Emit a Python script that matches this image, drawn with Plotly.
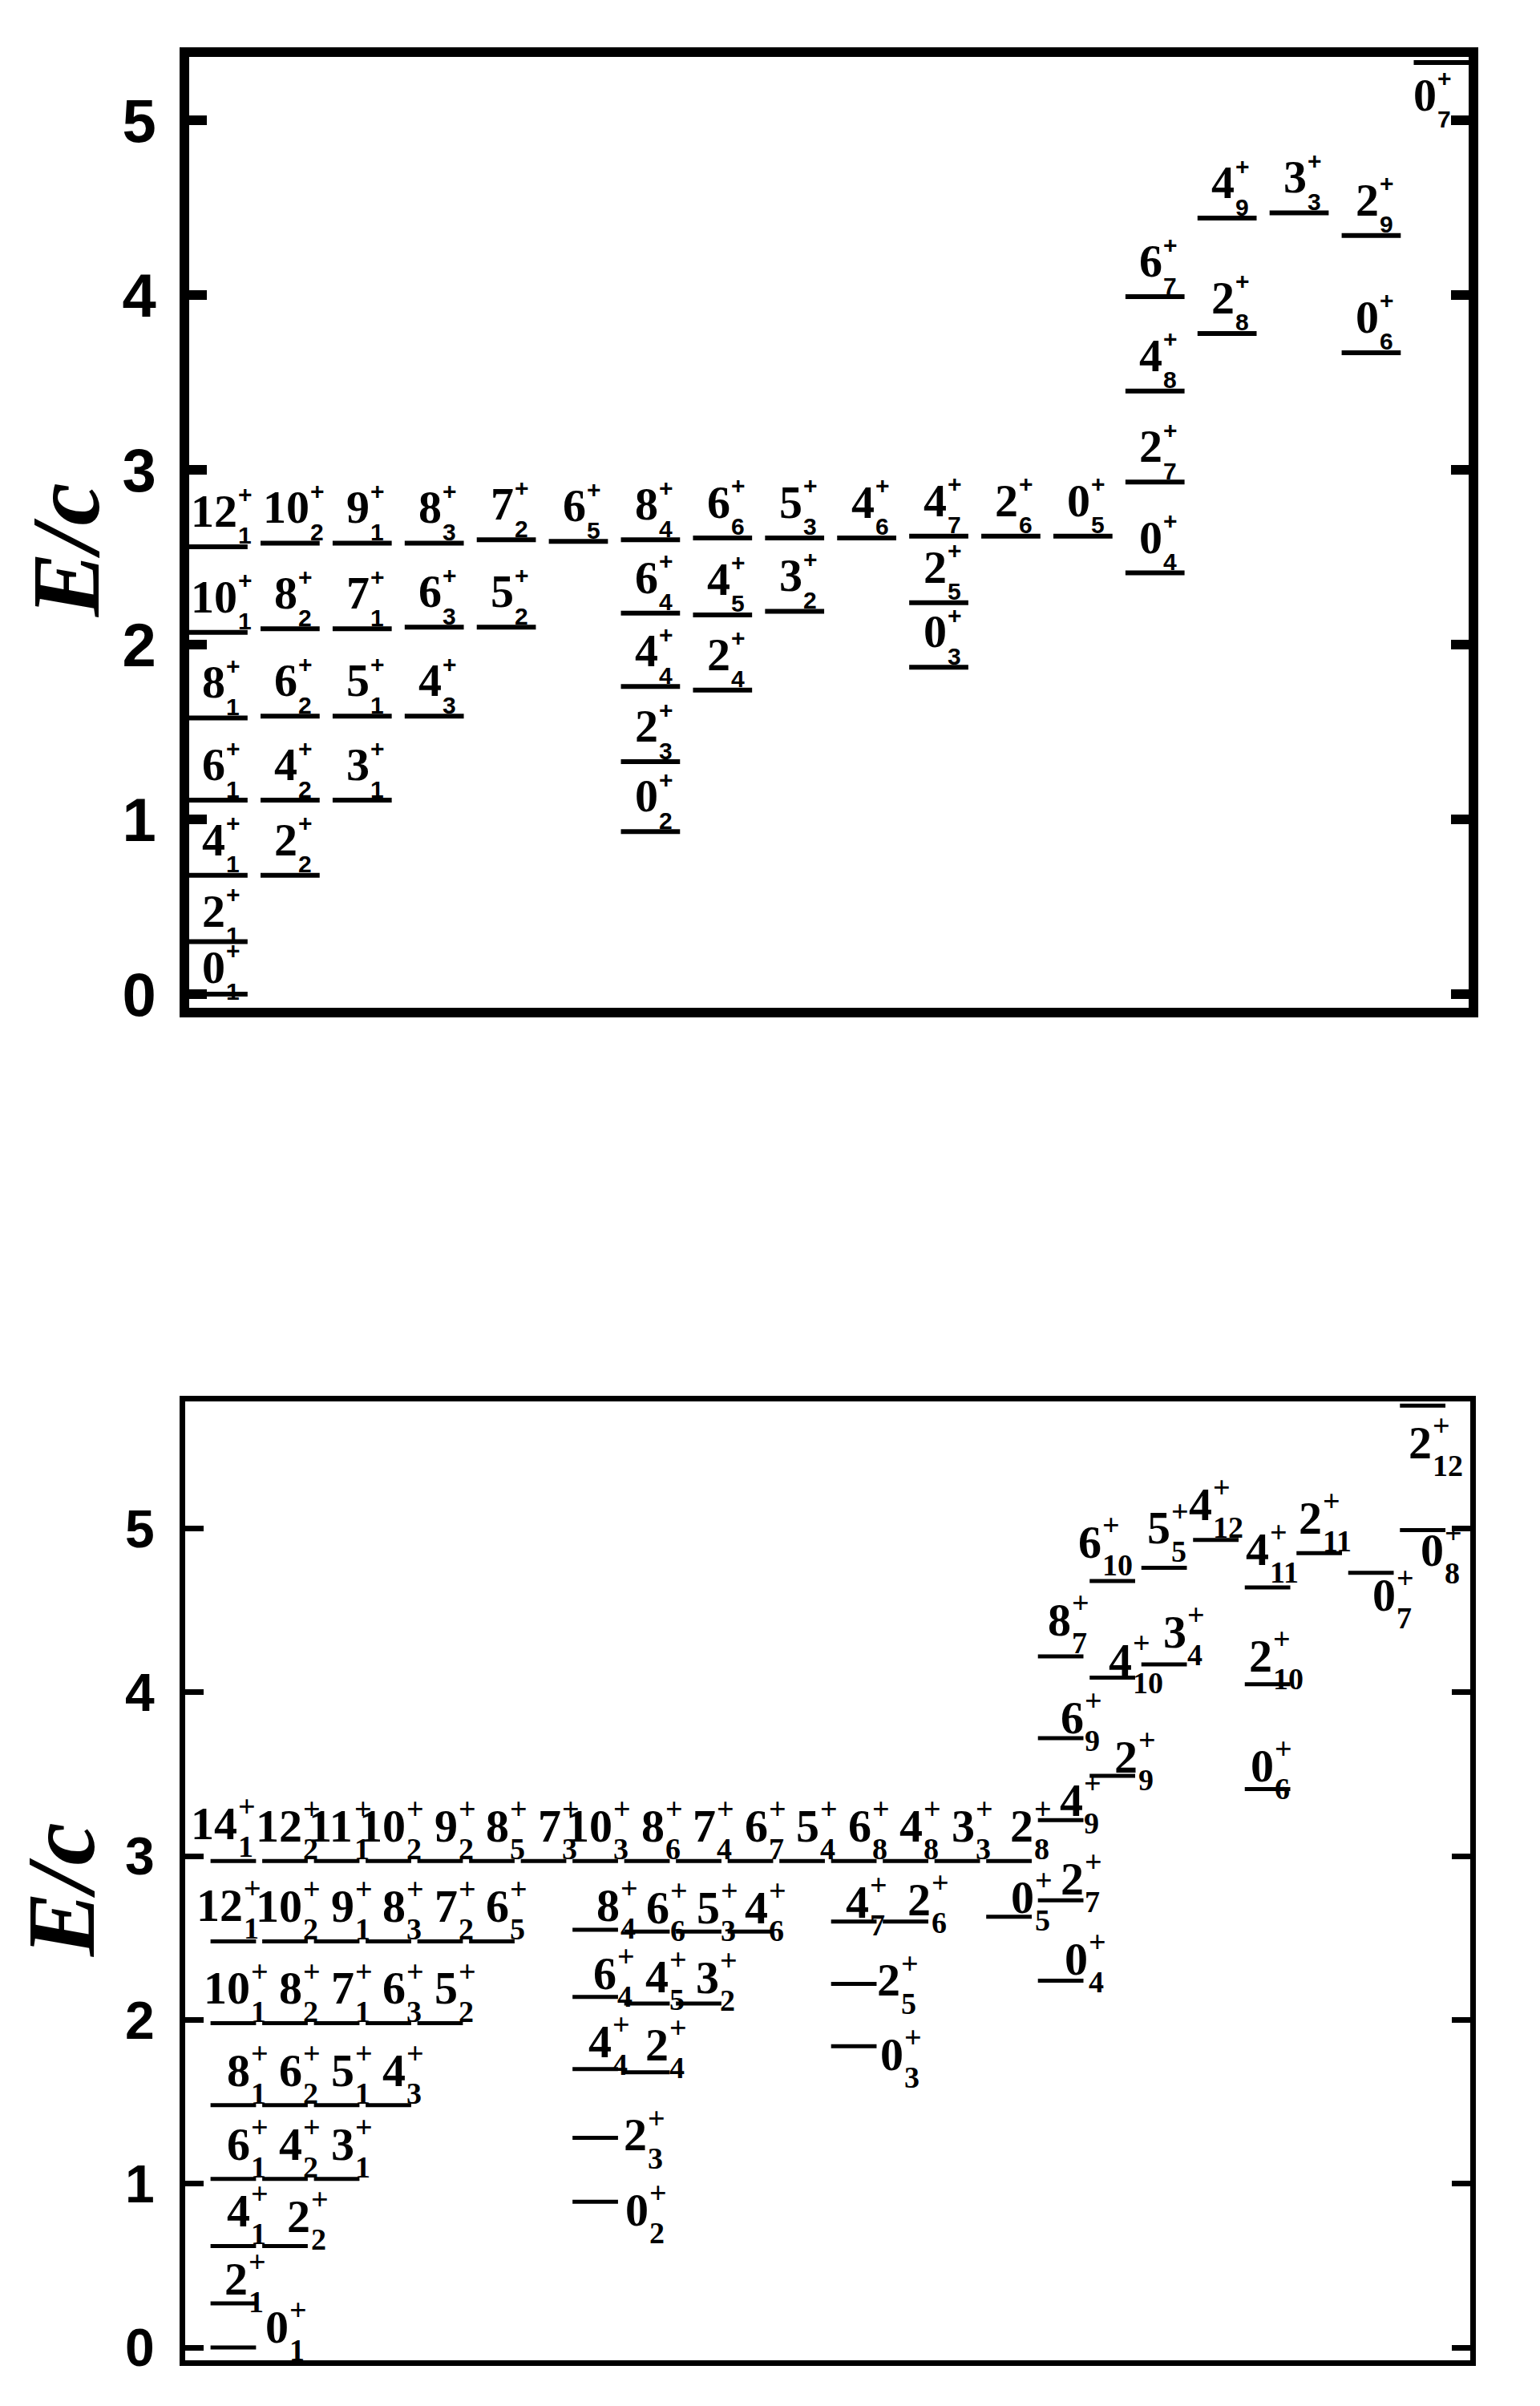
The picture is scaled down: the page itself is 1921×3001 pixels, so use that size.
import plotly.graph_objects as go

# ---------------- data: upper panel ----------------
TOP_COL = [1, 1, 1, 1, 1, 1, 1,
           2, 2, 2, 2, 2,
           3, 3, 3, 3,
           4, 4, 4,
           5, 5,
           6,
           7, 7, 7, 7, 7,
           8, 8, 8,
           9, 9,
           10,
           11, 11, 11,
           12,
           13,
           14, 14, 14, 14,
           15, 15,
           16,
           17, 17,
           18]
TOP_J = [0, 2, 4, 6, 8, 10, 12,
         2, 4, 6, 8, 10,
         3, 5, 7, 9,
         4, 6, 8,
         5, 7,
         6,
         0, 2, 4, 6, 8,
         2, 4, 6,
         3, 5,
         4,
         0, 2, 4,
         2,
         0,
         0, 2, 4, 6,
         2, 4,
         3,
         0, 2,
         0]
TOP_N = [1, 1, 1, 1, 1, 1, 1,
         2, 2, 2, 2, 2,
         1, 1, 1, 1,
         3, 3, 3,
         2, 2,
         5,
         2, 3, 4, 4, 4,
         4, 5, 6,
         2, 3,
         6,
         3, 5, 7,
         6,
         5,
         4, 7, 8, 7,
         8, 9,
         3,
         6, 9,
         7]
TOP_E = [0.00, 0.30, 0.68, 1.11, 1.58, 2.07, 2.56,
         0.68, 1.11, 1.59, 2.09, 2.58,
         1.11, 1.59, 2.09, 2.58,
         1.59, 2.10, 2.58,
         2.10, 2.60,
         2.59,
         0.93, 1.33, 1.76, 2.18, 2.60,
         1.74, 2.17, 2.61,
         2.19, 2.61,
         2.61,
         1.87, 2.24, 2.62,
         2.62,
         2.62,
         2.41, 2.93, 3.45, 3.99,
         3.78, 4.44,
         4.47,
         3.67, 4.34,
         5.33]

# ---------------- data: lower panel ----------------
BOT_COL = [1, 1, 1, 1, 1, 1, 1, 1,
           2, 2, 2, 2, 2, 2,
           3, 3, 3, 3, 3,
           4, 4, 4, 4,
           5, 5, 5,
           6, 6,
           7,
           8, 8, 8, 8, 8, 8,
           9, 9, 9, 9,
           10, 10, 10,
           11, 11,
           12,
           13, 13, 13, 13,
           14, 14,
           15,
           16, 16,
           17, 17, 17, 17, 17,
           18, 18, 18,
           19, 19,
           20,
           21, 21, 21,
           22,
           23,
           24, 24]
BOT_J = [0, 2, 4, 6, 8, 10, 12, 14,
         2, 4, 6, 8, 10, 12,
         3, 5, 7, 9, 11,
         4, 6, 8, 10,
         5, 7, 9,
         6, 8,
         7,
         0, 2, 4, 6, 8, 10,
         2, 4, 6, 8,
         3, 5, 7,
         4, 6,
         5,
         0, 2, 4, 6,
         2, 4,
         3,
         0, 2,
         0, 2, 4, 6, 8,
         2, 4, 6,
         3, 5,
         4,
         0, 2, 4,
         2,
         0,
         0, 2]
BOT_N = [1, 1, 1, 1, 1, 1, 1, 1,
         2, 2, 2, 2, 2, 2,
         1, 1, 1, 1, 1,
         3, 3, 3, 2,
         2, 2, 2,
         5, 5,
         3,
         2, 3, 4, 4, 4, 3,
         4, 5, 6, 6,
         2, 3, 4,
         6, 7,
         4,
         3, 5, 7, 8,
         6, 8,
         3,
         5, 8,
         4, 7, 9, 9, 7,
         9, 10, 10,
         4, 5,
         12,
         6, 10, 11,
         11,
         7,
         8, 12]
BOT_E = [0.00, 0.27, 0.62, 1.03, 1.48, 1.98, 2.48, 2.97,
         0.62, 1.03, 1.48, 1.98, 2.48, 2.97,
         1.03, 1.48, 1.98, 2.48, 2.97,
         1.48, 1.98, 2.48, 2.97,
         1.98, 2.48, 2.97,
         2.48, 2.97,
         2.97,
         0.89, 1.28, 1.70, 2.14, 2.55, 2.97,
         1.68, 2.10, 2.54, 2.97,
         2.10, 2.54, 2.97,
         2.54, 2.97,
         2.97,
         1.84, 2.22, 2.60, 2.97,
         2.60, 2.97,
         2.97,
         2.63, 2.97,
         2.24, 2.73, 3.22, 3.72, 4.22,
         3.49, 4.09, 4.68,
         4.17, 4.76,
         4.93,
         3.41, 4.05, 4.64,
         4.85,
         4.73,
         4.99, 5.75]

Y_TICKS = [0, 1, 2, 3, 4, 5]
Y_TITLE = "E/c"

# ---------------- styling ----------------
PAGE_W, PAGE_H = 1921, 3001
OFF = 8                      # default page margin of the html body
W, H = PAGE_W - 2 * OFF, PAGE_H - 2 * OFF
SERIF = "Liberation Serif, Times New Roman, serif"
SANS = "Liberation Sans, Arial, sans-serif"


def dom_x(a, b):
    return [(a - OFF) / W, (b - OFF) / W]


def dom_y(top, bottom):
    return [1 - (bottom - OFF) / H, 1 - (top - OFF) / H]


def px(xp, yp):
    return (xp - OFF) / W, 1 - (yp - OFF) / H


# label placement tweaks (pixel offsets: J centre vs line centre, J baseline above line)
TOP_SHIFT = {"0_1": (-5, 14), "2_1": (-5, 19), "0_7": (-23, -60)}
BOT_SHIFT = {
    "0_1": (55, 6), "2_1": (4, 11), "14_1": (-24, 27), "12_1": (-17, 25),
    "2_2": (17, 17), "0_2": (52, -30), "2_3": (50, -16), "4_4": (6, 15),
    "2_4": (12, 15), "6_4": (12, 10), "4_5": (12, 14), "3_2": (11, 13),
    "8_4": (16, 11), "6_6": (13, 10), "5_3": (12, 10), "4_6": (7, 10),
    "2_5": (43, -15), "0_3": (47, -30), "4_7": (4, 5), "2_6": (17, 8),
    "0_5": (17, 5), "2_8": (16, 24), "0_4": (19, 7), "2_7": (14, 7),
    "4_9": (13, 5), "6_9": (14, 6), "8_7": (-2, 26), "2_9": (17, 4),
    "4_10": (10, 2), "6_10": (-28, 29), "3_4": (13, 21), "5_5": (-7, 30),
    "4_12": (-19, 25), "0_6": (-7, 9), "2_10": (-9, 16), "4_11": (-13, 28),
    "2_11": (-11, 24), "0_7": (16, -47), "0_8": (12, -44), "2_12": (-3, -66),
}

fig = go.Figure()


def add_levels(cols, es, half, width, xa, ya):
    xs, ys = [], []
    for c, e in zip(cols, es):
        xs += [c - half, c + half, None]
        ys += [e, e, None]
    fig.add_trace(go.Scatter(x=xs, y=ys, mode="lines",
                             line=dict(color="black", width=width),
                             xaxis=xa, yaxis=ya, hoverinfo="skip",
                             showlegend=False))


add_levels(TOP_COL, TOP_E, 0.41, 6, "x", "y")
add_levels(BOT_COL, BOT_E, 0.44, 5, "x2", "y2")

annotations = []


def add_labels(cols, Js, ns, es, xref, yref, jsize, sfam, ssize,
               shifts, default, sup_dy, sub_dy):
    for c, J, n, e in zip(cols, Js, ns, es):
        nd = len(str(J))
        dx, dy = shifts.get(f"{J}_{n}", default(nd))
        wj = 0.5 * jsize * nd
        common = dict(x=c, y=e, xref=xref, yref=yref, showarrow=False,
                      borderpad=0, borderwidth=0, yanchor="middle")
        annotations.append(dict(common, text=f"<b>{J}</b>", xanchor="center",
                                xshift=dx, yshift=dy + 0.3375 * jsize,
                                font=dict(family=SERIF, size=jsize, color="black")))
        xs = dx + wj / 2 + 1
        annotations.append(dict(common, text="<b>+</b>", xanchor="left",
                                xshift=xs, yshift=dy + sup_dy,
                                font=dict(family=sfam, size=ssize, color="black")))
        annotations.append(dict(common, text=f"<b>{n}</b>", xanchor="left",
                                xshift=xs, yshift=dy + sub_dy,
                                font=dict(family=sfam, size=ssize, color="black")))


add_labels(TOP_COL, TOP_J, TOP_N, TOP_E, "x", "y", 58, SANS, 30,
           TOP_SHIFT, lambda nd: (-5, 25), 40, -11)
add_labels(BOT_COL, BOT_J, BOT_N, BOT_E, "x2", "y2", 58, SERIF, 38,
           BOT_SHIFT, lambda nd: (-8, 24) if nd > 1 else (7, 24), 41, -9)

# axis titles
for (tx, ty) in [(82, 686), (76, 2357)]:
    ax_, ay_ = px(tx, ty)
    annotations.append(dict(x=ax_, y=ay_, xref="paper", yref="paper",
                            text=f"<b><i>{Y_TITLE}</i></b>", textangle=-90,
                            showarrow=False, xanchor="center", yanchor="middle",
                            font=dict(family=SERIF, size=120, color="black")))


def xaxis(domain, rng, lw, anchor):
    return dict(domain=domain, range=rng, showline=True, linewidth=lw,
                linecolor="black", mirror=True, ticks="", showticklabels=False,
                showgrid=False, zeroline=False, anchor=anchor, automargin=False)


def yaxis(domain, rng, lw, tw, tl, fs, anchor, standoff):
    return dict(domain=domain, range=rng, showline=True, linewidth=lw,
                linecolor="black", mirror="ticks", ticks="inside", ticklen=tl,
                tickwidth=tw, tickcolor="black", tickvals=Y_TICKS,
                tickfont=dict(family=SANS, size=fs, color="black", weight="bold"),
                ticklabelstandoff=standoff,
                showgrid=False, zeroline=False, anchor=anchor, automargin=False)


fig.update_layout(
    width=W, height=H,
    margin=dict(l=0, r=0, t=0, b=0),
    paper_bgcolor="white", plot_bgcolor="white",
    showlegend=False,
    xaxis=xaxis(dom_x(236, 1832), [0.600, 18.352], 12, "y"),
    yaxis=yaxis(dom_y(71, 1257), [-0.078, 5.362], 12, 12, 22, 76, "x", 14),
    xaxis2=xaxis(dom_x(231, 1834), [0.070, 24.92], 7, "y2"),
    yaxis2=yaxis(dom_y(1748, 2944), [-0.078, 5.776], 7, 7, 23, 66, "x2", 18),
    annotations=annotations,
)

fig.write_html("out.html")
